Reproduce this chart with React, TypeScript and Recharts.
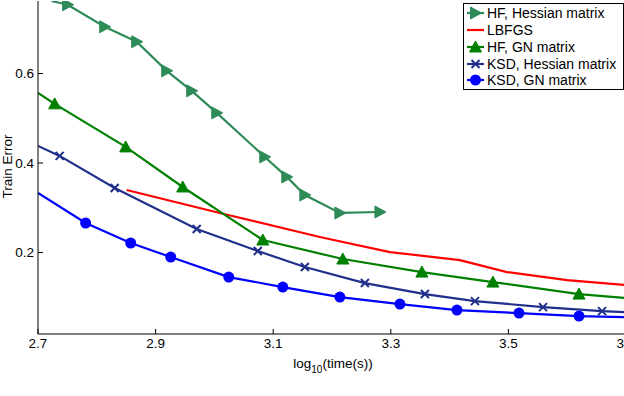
import React from 'react'
import { LineChart, Line, XAxis, YAxis, Legend, Label } from 'recharts'

const FONT = '"Liberation Sans", Arial, Helvetica, sans-serif'

// log10(time) and train error
const hfHessX = [2.7231, 2.7504, 2.8134, 2.8678, 2.9189, 2.9614, 3.004, 3.0857, 3.1231, 3.1538, 3.2134, 3.2815]
const hfHessY = [0.762, 0.7537, 0.7045, 0.671, 0.606, 0.5613, 0.512, 0.4136, 0.369, 0.3286, 0.2884, 0.2906]

const lbfgsX = [2.8508, 3.0091, 3.1793, 3.2985, 3.4176, 3.4976, 3.5998, 3.7]
const lbfgsY = [0.3398, 0.2884, 0.2347, 0.2011, 0.1832, 0.1564, 0.1385, 0.1273]

const hfGnX = [2.7, 2.7283, 2.8491, 2.9461, 3.0823, 3.2184, 3.3529, 3.4737, 3.6201, 3.7]
const hfGnY = [0.5568, 0.5322, 0.436, 0.3465, 0.228, 0.1855, 0.1564, 0.134, 0.1072, 0.0982]

const ksdHessX = [2.7, 2.7368, 2.8304, 2.9699, 3.0738, 3.1538, 3.2559, 3.358, 3.4431, 3.5589, 3.6593, 3.7]
const ksdHessY = [0.4383, 0.4159, 0.3443, 0.2526, 0.2034, 0.1676, 0.1318, 0.1072, 0.0915, 0.0781, 0.0691, 0.0669]

const ksdGnX = [2.7, 2.781, 2.8576, 2.9257, 3.0244, 3.1163, 3.2134, 3.3155, 3.4125, 3.518, 3.6201, 3.7]
const ksdGnY = [0.3331, 0.266, 0.2213, 0.19, 0.1452, 0.1228, 0.1004, 0.0848, 0.0714, 0.0647, 0.058, 0.0557]

const xTicks = [2.7, 2.9, 3.1, 3.3, 3.5, 3.7]
const yTicks = [0.2, 0.4, 0.6]
const X_MIN = 2.7
const X_MAX = 3.7
const Y_MIN = 0.018
const Y_MAX = 0.762

const toPoints = (xs: number[], ys: number[]) => xs.map((x, i) => ({ x, y: ys[i] }))

const series = [
  { name: 'HF, Hessian matrix', color: '#2E8B57', marker: 'right', data: toPoints(hfHessX, hfHessY) },
  { name: 'LBFGS', color: '#FF0000', marker: 'none', data: toPoints(lbfgsX, lbfgsY) },
  { name: 'HF, GN matrix', color: '#008000', marker: 'up', data: toPoints(hfGnX, hfGnY) },
  { name: 'KSD, Hessian matrix', color: '#1F2F8A', marker: 'cross', data: toPoints(ksdHessX, ksdHessY) },
  { name: 'KSD, GN matrix', color: '#0000FF', marker: 'circle', data: toPoints(ksdGnX, ksdGnY) },
]

function Marker({ kind, cx, cy, color }: any) {
  if (kind === 'right') {
    return <polygon points={`${cx - 5},${cy - 6} ${cx + 6},${cy} ${cx - 5},${cy + 6}`} fill={color} stroke={color} />
  }
  if (kind === 'up') {
    return <polygon points={`${cx},${cy - 6} ${cx + 6},${cy + 5} ${cx - 6},${cy + 5}`} fill={color} stroke={color} />
  }
  if (kind === 'cross') {
    return (
      <g stroke={color} strokeWidth={2}>
        <line x1={cx - 4} y1={cy - 4} x2={cx + 4} y2={cy + 4} />
        <line x1={cx - 4} y1={cy + 4} x2={cx + 4} y2={cy - 4} />
      </g>
    )
  }
  if (kind === 'circle') {
    return <circle cx={cx} cy={cy} r={5.5} fill={color} />
  }
  return null
}

const makeDot = (kind: string, color: string) => (props: any) => {
  const { cx, cy, payload, index } = props
  // points sitting on the axes edges are where the curve leaves the view: no marker
  if (kind === 'none' || payload.x <= X_MIN || payload.x >= X_MAX || payload.y >= Y_MAX) {
    return <g key={index} />
  }
  return (
    <g key={index}>
      <Marker kind={kind} cx={cx} cy={cy} color={color} />
    </g>
  )
}

function BottomTick(props: any) {
  const { x, y, payload } = props
  return (
    <g>
      <line x1={x} y1={y} x2={x} y2={y - 5} stroke="#000" />
      <text x={x} y={y + 14} textAnchor="middle" fontSize={13.5} fontFamily={FONT} fill="#000">
        {payload.value}
      </text>
    </g>
  )
}

function TopTick(props: any) {
  const { x, y } = props
  return <line x1={x} y1={y} x2={x} y2={y + 5} stroke="#000" />
}

function LeftTick(props: any) {
  const { x, y, payload } = props
  return (
    <g>
      <line x1={x} y1={y} x2={x + 5} y2={y} stroke="#000" />
      <text x={x - 4} y={y + 4.8} textAnchor="end" fontSize={13.5} fontFamily={FONT} fill="#000">
        {payload.value}
      </text>
    </g>
  )
}

function RightTick(props: any) {
  const { x, y } = props
  return <line x1={x} y1={y} x2={x - 5} y2={y} stroke="#000" />
}

function XTitle(props: any) {
  const vb = props.viewBox
  return (
    <text x={vb.x + vb.width / 2 + 1} y={vb.y + 34} textAnchor="middle" fontSize={13.5} fontFamily={FONT} fill="#000">
      log
      <tspan dy={5} fontSize={10}>10</tspan>
      <tspan dy={-5}>(time(s))</tspan>
    </text>
  )
}

function YTitle(props: any) {
  const vb = props.viewBox
  const cy = vb.y + vb.height / 2 - 1
  return (
    <text x={12} y={cy} transform={`rotate(-90, 12, ${cy})`} textAnchor="middle" fontSize={13.5} fontFamily={FONT} fill="#000">
      Train Error
    </text>
  )
}

function LegendBox() {
  return (
    <div
      style={{
        border: '1px solid #000',
        background: '#fff',
        width: 157,
        height: 84,
        padding: '1px 0 0 2px',
        fontFamily: FONT,
        fontSize: 14,
        color: '#000',
        boxSizing: 'content-box',
        overflow: 'hidden',
      }}
    >
      {series.map((s) => (
        <div key={s.name} style={{ display: 'flex', alignItems: 'center', height: 16.75, whiteSpace: 'nowrap' }}>
          <svg width={21} height={16} style={{ flex: 'none' }}>
            <line x1={1} y1={8} x2={18} y2={8} stroke={s.color} strokeWidth={2.2} />
            <Marker kind={s.marker} cx={9.5} cy={8} color={s.color} />
          </svg>
          <span>{s.name}</span>
        </div>
      ))}
    </div>
  )
}

export default function App() {
  return (
    <div style={{ position: 'absolute', left: 0, top: 0, width: 624, height: 396, overflow: 'hidden', background: '#fff' }}>
      <LineChart width={640} height={396} margin={{ top: 1, right: 14, bottom: 0, left: 0 }}>
        <XAxis
          xAxisId="b"
          type="number"
          dataKey="x"
          domain={[X_MIN, X_MAX]}
          ticks={xTicks}
          allowDataOverflow
          height={62}
          tickLine={false}
          tickSize={0}
          tickMargin={0}
          tick={<BottomTick />}
          axisLine={{ stroke: '#000' }}
        >
          <Label content={<XTitle />} />
        </XAxis>
        <XAxis
          xAxisId="t"
          orientation="top"
          type="number"
          domain={[X_MIN, X_MAX]}
          ticks={xTicks}
          height={0}
          tickLine={false}
          tickSize={0}
          tickMargin={0}
          tick={<TopTick />}
          axisLine={{ stroke: '#000' }}
        />
        <YAxis
          yAxisId="l"
          type="number"
          domain={[Y_MIN, Y_MAX]}
          ticks={yTicks}
          allowDataOverflow
          width={38}
          tickLine={false}
          tickSize={0}
          tickMargin={0}
          tick={<LeftTick />}
          axisLine={{ stroke: '#000' }}
        >
          <Label content={<YTitle />} />
        </YAxis>
        <YAxis
          yAxisId="r"
          orientation="right"
          type="number"
          domain={[Y_MIN, Y_MAX]}
          ticks={yTicks}
          width={0}
          tickLine={false}
          tickSize={0}
          tickMargin={0}
          tick={<RightTick />}
          axisLine={{ stroke: '#000' }}
        />
        {series.map((s) => (
          <Line
            key={s.name}
            xAxisId="b"
            yAxisId="l"
            data={s.data}
            dataKey="y"
            name={s.name}
            type="linear"
            stroke={s.color}
            strokeWidth={2.2}
            dot={makeDot(s.marker, s.color)}
            activeDot={false}
            isAnimationActive={false}
          />
        ))}
        <Legend
          layout="vertical"
          align="center"
          verticalAlign="middle"
          content={<LegendBox />}
          wrapperStyle={{ left: 463, top: 3, width: 'auto', right: 'auto', bottom: 'auto' }}
        />
      </LineChart>
    </div>
  )
}
